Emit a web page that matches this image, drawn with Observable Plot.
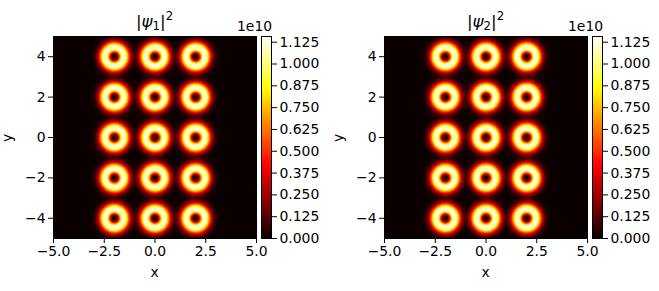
<!DOCTYPE html>
<html>
<head>
<meta charset="utf-8">
<script src="https://cdn.jsdelivr.net/npm/d3@7"></script>
<script src="https://cdn.jsdelivr.net/npm/@observablehq/plot@0.6"></script>
<style>
  html, body { margin: 0; padding: 0; background: #fff; }
  #wrap { position: relative; width: 659px; height: 291px; overflow: hidden;
          font-family: "DejaVu Sans", sans-serif; color: #000; }
  #wrap > svg, #wrap > div.plot { position: absolute; }
  .lbl { position: absolute; font-family: "DejaVu Sans", sans-serif; font-size: 13.9px; line-height: 1; white-space: nowrap; }
  .title { position: absolute; font-family: "DejaVu Sans", sans-serif; font-size: 16.7px; line-height: 1; white-space: nowrap; transform: translateX(-50%); }
  .title sub { font-size: 0.7em; vertical-align: -0.25em; }
  .title sup { font-size: 0.7em; vertical-align: 0.6em; }
</style>
</head>
<body>
<div id="wrap"></div>
<script>
// ---- data ----
const panelNames = ["1", "2"];                 // |psi_1|^2, |psi_2|^2
const vortexX = [-2, 0, 2];                    // ring centres, x
const vortexY = [-4, -2, 0, 2, 4];             // ring centres, y
const ringRadius = [0.46, 0.46];               // radius of brightest ring, per panel
const ringSharpness = [1.4, 1.4];              // profile exponent, per panel
const peakDensity = [1.15e10, 1.15e10];        // peak density, per panel
const extent = [-5, 5];                        // grid extent (x and y)
const colorMax = 1.1576e10;                    // top of colour bar
const xTicks = [-5, -2.5, 0, 2.5, 5];
const yTicks = [-4, -2, 0, 2, 4];
const cbarTicks = [0, 0.125, 0.25, 0.375, 0.5, 0.625, 0.75, 0.875, 1.0, 1.125];
const cbarExponent = "1e10";

// matplotlib "hot" colormap
function hot(t) {
  const c = v => Math.max(0, Math.min(1, v));
  const r = 0.0416 + (1 - 0.0416) * c(t / 0.365079);
  const g = c((t - 0.365079) / (0.746032 - 0.365079));
  const b = c((t - 0.746032) / (1 - 0.746032));
  return `rgb(${Math.round(r * 255)},${Math.round(g * 255)},${Math.round(b * 255)})`;
}

const colorScale = { type: "linear", domain: [0, colorMax], interpolate: hot, clamp: true };
const fmtX = d3.format(".1f");

function density(p) {
  const s = ringRadius[p], n = ringSharpness[p], A = peakDensity[p];
  return (x, y) => {
    let v = 0;
    for (const cx of vortexX) for (const cy of vortexY) {
      const u2 = ((x - cx) ** 2 + (y - cy) ** 2) / (s * s);
      v += A * Math.pow(u2, n) * Math.exp(n * (1 - u2));
    }
    return v;
  };
}

const wrap = document.getElementById("wrap");
const font = { fontFamily: "DejaVu Sans, sans-serif", fontSize: "13.9px", color: "black", background: "transparent", overflow: "visible" };

panelNames.forEach((name, p) => {
  const off = p * 331;
  // heatmap
  const heat = Plot.plot({
    width: 330, height: 291,
    marginLeft: 53, marginRight: 74, marginTop: 36, marginBottom: 53,
    style: font,
    x: { domain: extent },
    y: { domain: extent },
    color: colorScale,
    marks: [
      Plot.raster({ x1: extent[0], x2: extent[1], y1: extent[0], y2: extent[1],
                    width: 203, height: 202, fill: density(p), imageRendering: "auto" }),
      Plot.frame({ stroke: "black", strokeWidth: 1 }),
      Plot.axisX({ ticks: xTicks, tickFormat: fmtX, tickSize: 5, tickPadding: 3, label: null, stroke: "black" }),
      Plot.axisY({ ticks: yTicks, tickFormat: d3.format("d"), tickSize: 5, tickPadding: 3, label: null, stroke: "black" })
    ]
  });
  heat.style.left = off + "px"; heat.style.top = "0px";
  wrap.appendChild(heat);

  // colour bar
  const cbar = Plot.plot({
    width: 75, height: 291,
    marginLeft: 6, marginRight: 59, marginTop: 36, marginBottom: 53,
    style: font,
    x: { domain: [0, 1], axis: null },
    y: { domain: [0, colorMax / 1e10] },
    color: colorScale,
    marks: [
      Plot.raster({ x1: 0, x2: 1, y1: 0, y2: colorMax / 1e10, width: 1, height: 202,
                    fill: (x, y) => y * 1e10, imageRendering: "auto" }),
      Plot.frame({ stroke: "black", strokeWidth: 1 }),
      Plot.axisY({ anchor: "right", ticks: cbarTicks, tickFormat: d3.format(".3f"), tickSize: 5, tickPadding: 3, label: null, stroke: "black" })
    ]
  });
  cbar.style.left = (off + 255) + "px"; cbar.style.top = "0px";
  wrap.appendChild(cbar);

  // title
  const t = document.createElement("div");
  t.className = "title";
  t.innerHTML = `|<i>ψ</i><sub>${name}</sub>|<sup>2</sup>`;
  t.style.left = (off + 154.5) + "px"; t.style.top = "11px";
  wrap.appendChild(t);

  // exponent label
  const e = document.createElement("div");
  e.className = "lbl"; e.textContent = cbarExponent;
  e.style.left = (off + 237) + "px"; e.style.top = "20px";
  wrap.appendChild(e);

  // axis labels
  const xl = document.createElement("div");
  xl.className = "lbl"; xl.textContent = "x";
  xl.style.left = (off + 150.5) + "px"; xl.style.top = "266px";
  wrap.appendChild(xl);

  const yl = document.createElement("div");
  yl.className = "lbl"; yl.textContent = "y";
  yl.style.left = (off + 4) + "px"; yl.style.top = "131px";
  yl.style.transform = "rotate(-90deg)";
  wrap.appendChild(yl);
});
</script>
</body>
</html>
